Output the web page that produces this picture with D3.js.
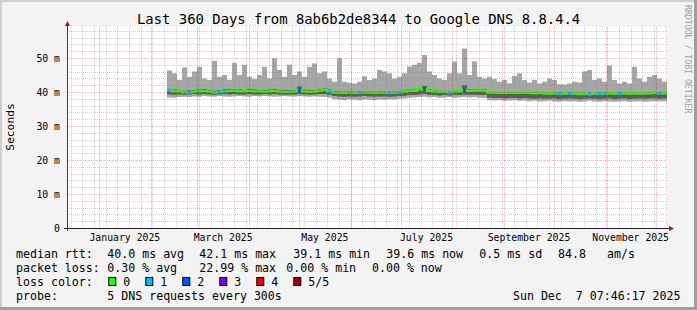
<!DOCTYPE html>
<html>
<head>
<meta charset="utf-8">
<script src="https://cdn.jsdelivr.net/npm/d3@7/dist/d3.min.js"></script>
<style>
  body { margin: 0; background: #fff; }
  svg text { font-family: "DejaVu Sans Mono", monospace; fill: #000; white-space: pre; }
</style>
</head>
<body>
<div id="chart"></div>
<script>
// ---- data (values in ms) ----
const title = 'Last 360 Days from 8ab6b2de8344 to Google DNS 8.8.4.4';
const yLabel = 'Seconds';
const watermark = 'RRDTOOL / TOBI OETIKER';

// one sample every 3 days, first one on 10 Feb 2025
const smokeTop = [
  46.3, 45.5, 43.5, 47.2, 44.5, 46.0, 47.4, 44.0, 43.5, 49.2,
  44.5, 45.0, 43.5, 48.6, 45.0, 48.0, 44.5, 43.8, 45.0, 47.4,
  44.0, 49.9, 46.5, 44.5, 48.0, 45.0, 46.0, 44.5, 47.4, 48.4,
  45.5, 46.0, 44.0, 43.0, 49.9, 43.0, 42.7, 42.5, 43.0, 44.6,
  43.5, 44.0, 46.5, 46.0, 45.5, 44.0, 44.5, 45.5, 47.5, 48.0,
  48.6, 50.9, 46.0, 45.0, 44.0, 43.5, 45.5, 49.0, 45.5, 52.8,
  45.0, 49.0, 44.5, 44.0, 44.5, 43.8, 43.0, 43.5, 42.6, 44.7,
  45.5, 43.5, 42.8, 43.5, 42.5, 43.0, 44.0, 43.5, 42.3, 42.2,
  42.5, 43.0, 42.8, 46.0, 46.5, 43.5, 44.0, 43.0, 47.8, 43.5,
  42.5, 43.0, 42.5, 47.4, 44.0, 43.0, 44.5, 45.0, 44.0, 43.0
];
const smokeBottom = [
  38.4, 38.3, 38.5, 38.6, 38.5, 38.7, 38.6, 38.8, 38.7, 38.6,
  38.8, 38.7, 38.6, 38.7, 38.8, 38.7, 38.6, 38.8, 38.7, 38.8,
  38.7, 38.6, 38.7, 38.8, 38.7, 38.6, 38.8, 38.7, 38.6, 38.7,
  38.6, 38.5, 38.3, 37.9, 37.7, 37.6, 37.8, 37.7, 37.6, 37.8,
  37.7, 37.6, 37.8, 37.7, 37.9, 37.8, 38.0, 38.1, 38.3, 38.4,
  38.5, 38.6, 38.4, 38.5, 38.3, 38.4, 38.5, 38.3, 38.4, 38.5,
  38.4, 38.5, 38.3, 38.2, 37.6, 37.5, 37.6, 37.4, 37.5, 37.6,
  37.4, 37.5, 37.3, 37.4, 37.2, 37.3, 37.4, 37.2, 37.1, 37.3,
  37.2, 37.3, 37.1, 37.2, 37.4, 37.2, 37.1, 37.3, 37.2, 37.1,
  37.2, 37.3, 37.1, 37.2, 37.3, 37.1, 37.2, 37.3, 37.2, 37.3
];
const darkTop = [
  40.9, 40.7, 40.6, 40.4, 40.5, 40.6, 40.7, 40.8, 40.6, 40.4,
  40.5, 40.7, 40.8, 40.9, 40.7, 40.6, 40.8, 40.7, 40.6, 40.6,
  40.7, 40.8, 40.6, 40.5, 40.5, 40.6, 41.6, 40.7, 40.5, 40.6,
  40.9, 41.0, 40.7, 40.2, 40.2, 40.1, 40.2, 40.1, 40.2, 40.3,
  40.2, 40.1, 40.2, 40.2, 40.1, 40.2, 40.3, 40.5, 40.8, 40.7,
  41.2, 41.8, 40.7, 40.5, 40.4, 40.4, 40.3, 40.6, 40.6, 42.0,
  40.7, 40.8, 40.8, 40.8, 40.0, 40.0, 39.9, 39.9, 40.0, 39.9,
  39.9, 40.0, 39.9, 39.8, 39.9, 39.8, 39.7, 39.8, 39.7, 39.7,
  39.8, 39.7, 39.6, 39.7, 39.6, 39.7, 39.8, 39.7, 39.8, 39.7,
  39.8, 39.8, 39.7, 39.8, 39.7, 39.8, 39.8, 39.9, 39.8, 39.8
];
const darkBottom = [
  39.3, 39.2, 39.3, 39.2, 39.3, 39.4, 39.3, 39.4, 39.3, 39.2,
  39.3, 39.4, 39.3, 39.4, 39.3, 39.3, 39.4, 39.3, 39.3, 39.4,
  39.3, 39.4, 39.3, 39.2, 39.3, 39.3, 39.4, 39.3, 39.2, 39.3,
  39.4, 39.4, 39.2, 38.8, 38.7, 38.6, 38.7, 38.6, 38.7, 38.8,
  38.7, 38.6, 38.7, 38.7, 38.6, 38.7, 38.8, 38.9, 39.1, 39.1,
  39.3, 39.4, 39.2, 39.1, 39.0, 39.1, 39.0, 39.2, 39.1, 39.3,
  39.2, 39.2, 39.1, 39.1, 38.3, 38.2, 38.2, 38.1, 38.2, 38.2,
  38.1, 38.2, 38.1, 38.0, 38.1, 38.0, 38.0, 38.1, 37.9, 38.0,
  38.1, 38.0, 37.9, 38.0, 38.1, 38.0, 37.9, 38.0, 38.1, 37.9,
  38.0, 38.1, 37.9, 38.0, 38.1, 38.0, 38.1, 38.1, 38.0, 38.1
];
const median = [
  40.5, 40.2, 40.2, 39.9, 39.9, 40.1, 40.2, 40.3, 40.1, 39.9,
  40.0, 40.2, 40.3, 40.4, 40.2, 40.2, 40.3, 40.2, 40.2, 40.1,
  40.2, 40.3, 40.1, 40.0, 40.0, 40.1, 40.6, 40.2, 40.0, 40.1,
  40.4, 40.6, 40.2, 39.8, 39.8, 39.7, 39.8, 39.7, 39.8, 39.9,
  39.8, 39.7, 39.8, 39.8, 39.7, 39.8, 39.9, 40.1, 40.4, 40.3,
  40.8, 41.0, 40.3, 40.1, 40.0, 40.0, 39.9, 40.2, 40.2, 40.6,
  40.3, 40.4, 40.4, 40.4, 39.8, 39.8, 39.7, 39.7, 39.8, 39.7,
  39.7, 39.8, 39.7, 39.6, 39.7, 39.6, 39.5, 39.6, 39.5, 39.5,
  39.6, 39.5, 39.4, 39.5, 39.4, 39.5, 39.6, 39.5, 39.6, 39.5,
  39.6, 39.6, 39.5, 39.6, 39.5, 39.6, 39.6, 39.7, 39.6, 39.6
];
// samples that had lost packets: sample index and number lost
const lossIndex = [0, 4, 10, 11, 26, 32, 38, 44, 46, 51, 56, 59, 78, 80, 84, 86, 87, 90, 98];
const lossCount = [1, 1, 1, 1, 2, 1, 1, 1, 1, 2, 1, 2, 1, 1, 1, 1, 1, 1, 1];

const lossLabels = ['0', '1', '2', '3', '4', '5/5'];
const lossColors = ['#26ff00', '#00b8ff', '#0059ff', '#7e00ff', '#ff0000', '#a10000'];

const rttStats = ['median rtt:', '40.0 ms avg', '42.1 ms max', '39.1 ms min', '39.6 ms now', '0.5 ms sd', '84.8', 'am/s'];
const lossStats = ['packet loss:', '0.30 % avg', '22.99 % max', '0.00 % min', '0.00 % now'];
const probeText = ['probe:', '5 DNS requests every 300s'];
const stamp = 'Sun Dec  7 07:46:17 2025';

// ---- layout ----
const W = 697, H = 310;
const plotLeft = 67, plotRight = 667, plotTop = 27, plotBottom = 228;
const viewStart = new Date(Date.UTC(2024, 11, 12, 19, 0));
const viewEnd = new Date(viewStart.getTime() + 360 * 864e5);
const dataStart = new Date(Date.UTC(2025, 1, 10, 19, 0));
const step = 3 * 864e5;

const svg = d3.select('#chart').append('svg')
    .attr('width', W)
    .attr('height', H);

// frame
svg.append('rect').attr('width', W).attr('height', H).attr('fill', '#f3f3f3');
svg.append('path').attr('d', `M0,0H${W}V2H2V${H}H0Z`).attr('fill', '#cecece');
svg.append('path').attr('d', `M${W},${H}H0V${H - 3}H${W - 3}V0H${W}Z`).attr('fill', '#9e9e9e');

const x = d3.scaleUtc().domain([viewStart, viewEnd]).range([plotLeft, plotRight]);
const y = d3.scaleLinear().domain([0, (plotBottom - plotTop) / 3.4]).range([plotBottom, plotTop]);

svg.append('rect')
    .attr('x', plotLeft).attr('y', plotTop)
    .attr('width', plotRight - plotLeft).attr('height', plotBottom - plotTop)
    .attr('fill', '#fff');

// rows of the series
const rows = median.map((m, i) => ({
    t: new Date(dataStart.getTime() + i * step),
    top: smokeTop[i], bot: smokeBottom[i],
    dTop: darkTop[i], dBot: darkBottom[i],
    med: m, loss: 0
}));
lossIndex.forEach((idx, k) => { rows[idx].loss = lossCount[k]; });
// close the last step
const last = rows[rows.length - 1];
const stepRows = rows.concat([Object.assign({}, last, { t: new Date(last.t.getTime() + step) })]);

const area = (lo, hi) => d3.area()
    .x(d => x(d.t))
    .y0(d => y(d[lo]))
    .y1(d => y(d[hi]))
    .curve(d3.curveStepAfter);

svg.append('path')
    .datum(stepRows)
    .attr('d', area('bot', 'top'))
    .attr('fill', '#a6a6a6');

svg.append('path')
    .datum(stepRows)
    .attr('d', area('dBot', 'dTop'))
    .attr('fill', '#5c5c5c');

// median, green where no loss
svg.append('path')
    .datum(stepRows)
    .attr('d', d3.line().x(d => x(d.t)).y(d => y(d.med)).curve(d3.curveStepAfter))
    .attr('fill', 'none')
    .attr('stroke', lossColors[0])
    .attr('stroke-width', 2.2);

svg.selectAll('rect.loss')
    .data(rows.filter(d => d.loss > 0))
    .join('rect')
    .attr('class', 'loss')
    .attr('x', d => x(d.t) + 1)
    .attr('width', 3)
    .attr('y', d => y(d.med) - 1.5)
    .attr('height', 3)
    .attr('fill', d => lossColors[d.loss]);

// grid (drawn over the data, like rrdtool)
const grid = svg.append('g').attr('class', 'grid');
const yMax = y.domain()[1];
const minorY = d3.range(2, yMax, 2).filter(v => v % 10 !== 0);
const majorY = d3.range(10, yMax, 10);
const minorX = d3.utcSunday.range(viewStart, viewEnd);
const months = d3.utcMonth.range(viewStart, viewEnd);
const minorColor = 'rgba(130,130,130,0.38)';
const majorColor = 'rgba(255,0,0,0.24)';
const px = v => Math.round(v) + 0.5;

grid.selectAll('line.hmin').data(minorY).join('line')
    .attr('class', 'hmin')
    .attr('x1', plotLeft).attr('x2', plotRight)
    .attr('y1', d => px(y(d))).attr('y2', d => px(y(d)))
    .attr('stroke', minorColor).attr('stroke-dasharray', '1 1');
grid.selectAll('line.vmin').data(minorX).join('line')
    .attr('class', 'vmin')
    .attr('y1', plotTop).attr('y2', plotBottom)
    .attr('x1', d => px(x(d))).attr('x2', d => px(x(d)))
    .attr('stroke', minorColor).attr('stroke-dasharray', '1 1');
grid.selectAll('line.hmaj').data(majorY).join('line')
    .attr('class', 'hmaj')
    .attr('x1', plotLeft).attr('x2', plotRight)
    .attr('y1', d => px(y(d))).attr('y2', d => px(y(d)))
    .attr('stroke', majorColor).attr('stroke-dasharray', '3 1');
grid.selectAll('line.vmaj').data(months).join('line')
    .attr('class', 'vmaj')
    .attr('y1', plotTop).attr('y2', plotBottom)
    .attr('x1', d => px(x(d))).attr('x2', d => px(x(d)))
    .attr('stroke', majorColor).attr('stroke-dasharray', '3 1');

// axes
grid.append('line')
    .attr('x1', plotLeft + 0.5).attr('x2', plotLeft + 0.5)
    .attr('y1', plotBottom + 3).attr('y2', plotTop - 4)
    .attr('stroke', '#404040');
grid.append('line')
    .attr('x1', plotLeft - 3).attr('x2', plotRight + 3)
    .attr('y1', plotBottom + 0.5).attr('y2', plotBottom + 0.5)
    .attr('stroke', '#202020');
svg.append('path')
    .attr('d', `M${plotLeft - 2},${plotTop - 1}L${plotLeft + 3},${plotTop - 1}L${plotLeft + 0.5},${plotTop - 6}Z`)
    .attr('fill', '#9a1b1b');
svg.append('path')
    .attr('d', `M${plotRight + 2},${plotBottom - 2}L${plotRight + 2},${plotBottom + 3}L${plotRight + 7},${plotBottom + 0.5}Z`)
    .attr('fill', '#9a1b1b');

// y tick labels
svg.selectAll('text.ytick')
    .data(d3.range(0, yMax, 10))
    .join('text')
    .attr('class', 'ytick')
    .attr('x', 60)
    .attr('y', d => y(d) + 3.6)
    .attr('text-anchor', 'end')
    .style('font-size', '9.8px')
    .text(d => d === 0 ? '0' : d + ' m');

// x labels, every other month, centred on the month
const fmt = d3.utcFormat('%B %Y');
svg.selectAll('text.xtick')
    .data(months.filter(d => d.getUTCMonth() % 2 === 0 && d3.utcMonth.offset(d, 1) <= viewEnd))
    .join('text')
    .attr('class', 'xtick')
    .attr('x', d => (x(d) + x(d3.utcMonth.offset(d, 1))) / 2)
    .attr('y', 240.5)
    .attr('text-anchor', 'middle')
    .style('font-size', '9.8px')
    .text(d => fmt(d));

// title and side labels
svg.append('text')
    .attr('x', 137).attr('y', 24)
    .style('font-size', '13.9px')
    .text(title);

svg.append('text')
    .attr('transform', 'translate(14,127) rotate(-90)')
    .attr('text-anchor', 'middle')
    .style('font-size', '11.3px')
    .text(yLabel);

svg.append('text')
    .attr('transform', 'translate(685,5) rotate(90)')
    .style('font-size', '8.2px')
    .style('fill', '#a0a0a0')
    .text(watermark);

// legend
const legendSize = '11.6px';
const rttX = [16, 107.3, 199.3, 293.3, 386.3, 479.3, 558, 607];
const lossX = [16, 107.3, 199.3, 286.3, 372];
const lineY = [258.3, 272.2, 286.1, 300];

const legend = svg.append('g').style('font-size', legendSize);
legend.selectAll('text.rtt').data(rttStats).join('text')
    .attr('class', 'rtt')
    .attr('x', (d, i) => rttX[i]).attr('y', lineY[0]).text(d => d);
legend.selectAll('text.pl').data(lossStats).join('text')
    .attr('class', 'pl')
    .attr('x', (d, i) => lossX[i]).attr('y', lineY[1]).text(d => d);

legend.append('text').attr('x', 16).attr('y', lineY[2]).text('loss color:');
const swatch = legend.selectAll('g.swatch').data(lossLabels).join('g')
    .attr('class', 'swatch')
    .attr('transform', (d, i) => `translate(${108.3 + i * 37},0)`);
swatch.append('rect')
    .attr('x', 0.5).attr('y', 277.5)
    .attr('width', 7).attr('height', 8)
    .attr('fill', (d, i) => lossColors[i])
    .attr('stroke', '#000');
swatch.append('text')
    .attr('x', 15).attr('y', lineY[2])
    .text(d => d);

legend.append('text').attr('x', 16).attr('y', lineY[3]).text(probeText[0]);
legend.append('text').attr('x', 107.3).attr('y', lineY[3]).text(probeText[1]);
legend.append('text').attr('x', 680.5).attr('y', lineY[3]).attr('text-anchor', 'end').text(stamp);
</script>
</body>
</html>
